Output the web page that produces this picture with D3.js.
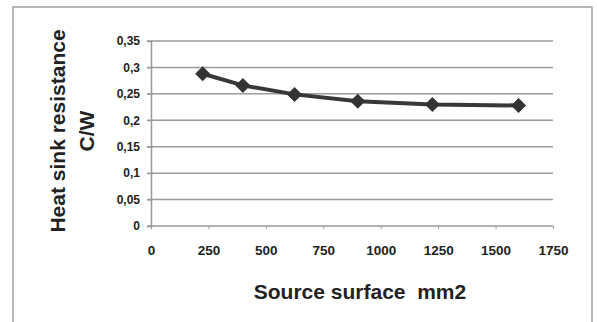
<!DOCTYPE html>
<html><head><meta charset="utf-8">
<script src="https://cdn.jsdelivr.net/npm/d3@7/dist/d3.min.js"></script>
<style>
body{margin:0;background:#fff;}
svg{display:block;font-family:"Liberation Sans",Arial,sans-serif;}
</style></head>
<body>
<svg id="c" width="597" height="322"></svg>
<script>
const surface = [225, 400, 625, 900, 1225, 1600];
const resistance = [0.288, 0.266, 0.249, 0.236, 0.230, 0.228];
const xTicks = [0, 250, 500, 750, 1000, 1250, 1500, 1750];
const yTicks = [0, 0.05, 0.1, 0.15, 0.2, 0.25, 0.3, 0.35];
const xTitle = "Source surface  mm2";
const yTitle = ["Heat sink resistance", "C/W"];

const svg = d3.select("#c");
svg.append("rect").attr("x", 13).attr("y", 7).attr("width", 579).attr("height", 320)
  .attr("fill", "#fff").attr("stroke", "#a0a0a0").attr("stroke-width", 1.5);

const x = d3.scaleLinear().domain([0, 1750]).range([151, 553]);
const y = d3.scaleLinear().domain([0, 0.35]).range([226, 41]);
const fmt = d => String(+d.toFixed(2)).replace(".", ",");

// gridlines
svg.append("g").selectAll("line").data(yTicks).join("line")
  .attr("x1", x(0) - 4).attr("x2", x(1750))
  .attr("y1", d => y(d)).attr("y2", d => y(d))
  .attr("stroke", "#9a9a9a").attr("stroke-width", 1.5);

// y axis
const ya = svg.append("g").attr("transform", `translate(${x(0)},0)`)
  .call(d3.axisLeft(y).tickValues(yTicks).tickFormat(fmt).tickSize(4).tickPadding(7));
ya.select(".domain").attr("stroke", "#9a9a9a").attr("stroke-width", 1.5);
ya.selectAll(".tick line").attr("stroke", "#9a9a9a");
ya.selectAll(".tick text").attr("font-size", 12).attr("font-weight", "bold")
  .attr("fill", "#222").attr("font-family", "'Liberation Sans',Arial,sans-serif");

// x axis
const xa = svg.append("g").attr("transform", `translate(0,${y(0)})`)
  .call(d3.axisBottom(x).tickValues(xTicks).tickFormat(d3.format("d")).tickSize(3).tickPadding(16));
xa.select(".domain").remove();
xa.selectAll(".tick line").attr("stroke", "#9a9a9a");
xa.selectAll(".tick text").attr("font-size", 13.5).attr("font-weight", "bold")
  .attr("fill", "#222").attr("font-family", "'Liberation Sans',Arial,sans-serif");

// line
const pts = surface.map((s, i) => [s, resistance[i]]);
svg.append("path").datum(pts)
  .attr("fill", "none").attr("stroke", "#383838").attr("stroke-width", 4)
  .attr("d", d3.line().x(d => x(d[0])).y(d => y(d[1])));
const r = 7.5;
svg.append("g").selectAll("path").data(pts).join("path")
  .attr("transform", d => `translate(${x(d[0])},${y(d[1])})`)
  .attr("d", `M0,${-r}L${r},0L0,${r}L${-r},0Z`)
  .attr("fill", "#333");

// titles
svg.append("text").attr("x", 360).attr("y", 299).attr("text-anchor", "middle")
  .attr("font-size", 21).attr("font-weight", "bold").attr("fill", "#222")
  .attr("xml:space", "preserve").style("white-space", "pre").text(xTitle);
const yt = svg.append("text").attr("transform", "translate(65,131) rotate(-90)")
  .attr("text-anchor", "middle").attr("font-size", 21).attr("font-weight", "bold").attr("fill", "#222");
yt.append("tspan").attr("x", 0).attr("y", 0).text(yTitle[0]);
yt.append("tspan").attr("x", 0).attr("y", 29).text(yTitle[1]);
</script>
</body></html>
